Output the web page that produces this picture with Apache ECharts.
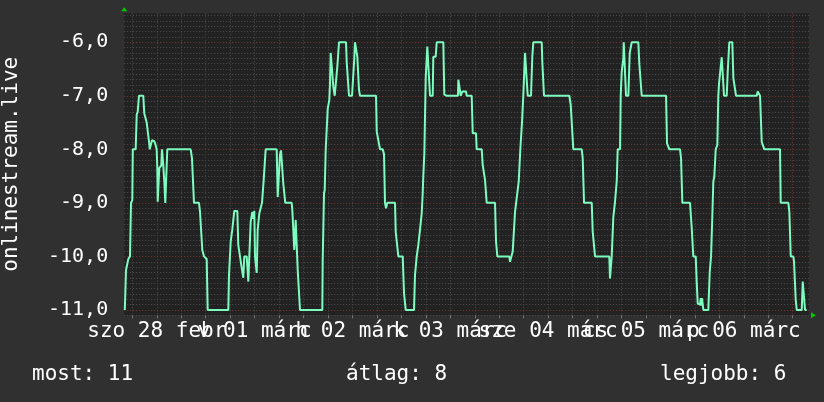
<!DOCTYPE html>
<html><head><meta charset="utf-8">
<script src="https://cdn.jsdelivr.net/npm/echarts@6/dist/echarts.min.js"></script>
<style>html,body{margin:0;padding:0;background:#303030}#c{width:824px;height:402px}</style>
</head><body><div id="c"></div>
<script>
// hours since 28 febr 00:00
const hours = [4.15,4.44,5.00,5.42,5.67,5.99,6.11,6.82,7.07,7.31,7.63,8.68,8.93,9.52,10.08,10.26,10.75,10.82,11.38,11.63,11.97,12.12,12.22,12.46,12.61,13.10,13.27,13.59,13.84,14.08,14.33,14.57,
20.31,20.63,21.12,22.35,22.60,23.01,23.16,23.58,24.24,24.48,29.54,29.71,30.13,30.52,31.01,31.75,31.99,32.41,32.83,33.22,33.46,34.05,34.45,34.79,35.03,35.43,35.67,35.92,36.09,36.51,36.75,37.14,37.81,38.13,38.22,38.71,
41.41,41.66,42.05,42.22,42.47,42.89,43.03,43.45,43.52,45.09,45.24,45.73,45.98,46.07,46.32,46.57,46.88,47.13,52.60,52.70,53.02,53.19,53.44,53.93,54.32,54.49,54.66,54.98,55.30,55.64,56.04,56.28,56.53,56.70,
58.42,58.59,58.83,59.15,59.89,60.21,60.45,60.62,61.04,61.19,61.43,61.60,61.85,65.78,65.95,66.44,66.76,67.42,67.74,67.98,68.23,68.55,70.44,70.61,70.85,71.25,72.33,72.65,73.06,75.10,75.34,75.76,76.15,76.57,76.99,77.23,77.38,77.63,
77.97,78.21,78.36,78.78,79.02,79.69,79.83,80.42,80.67,82.29,82.53,83.12,85.89,85.97,86.38,86.56,86.80,86.95,87.86,88.03,89.25,89.50,90.31,90.48,91.71,91.95,92.27,92.52,92.76,92.93,94.97,95.22,95.54,98.48,98.65,98.82,99.31,99.88,100.44,100.79,
101.18,101.60,101.91,102.33,102.58,102.99,103.80,104.12,104.37,106.43,106.58,106.75,106.99,113.20,113.54,113.79,114.18,116.24,116.49,116.81,118.70,118.94,119.26,119.51,123.01,123.18,123.36,123.60,124.00,124.41,124.83,125.07,125.64,
125.81,126.06,126.45,126.55,126.87,127.11,127.68,128.02,128.26,128.51,130.13,130.37,130.55,130.96,136.93,137.17,137.49,137.73,140.36,140.61,140.93,142.81,143.23,143.62,144.21,144.46,144.70,145.10,145.27,145.44,145.58,145.76,145.93,146.08,
147.30,147.65,147.97,148.28,148.53,148.77,149.12,149.36,149.51,149.75,149.93,150.34,150.59,150.98,151.15,151.82,152.06,152.31,152.45,153.19,153.44,153.85,154.10,159.17,159.42,159.81,159.99,160.23,160.40,160.79,161.04,164.89,165.06,
166.93,167.18,167.52,168.16,168.33,168.57,168.74,168.99,170.22,170.46,170.78,171.03,171.44];
const ranks = [-11.0,-10.26,-10.05,-10.0,-9.0,-8.95,-8.0,-8.0,-7.35,-7.3,-7.0,-7.0,-7.33,-7.5,-7.85,-8.0,-8.0,-7.83,-7.85,-7.9,-8.0,-8.35,-8.98,-8.98,-8.35,-8.3,-8.0,-8.3,-8.6,-9.0,-9.0,-8.0,
-8.0,-8.17,-9.0,-9.0,-9.17,-9.2,-9.88,-10.0,-10.05,-11.0,-11.0,-10.35,-9.72,-9.5,-9.15,-9.15,-9.79,-10.0,-10.22,-10.4,-10.0,-10.0,-10.47,-10.47,-9.35,-9.17,-9.3,-9.15,-10.0,-10.31,-9.5,-9.2,-9.0,-9.0,-8.57,-8.0,
-8.0,-8.89,-8.89,-8.1,-8.02,-8.02,-8.64,-8.64,-9.0,-9.0,-9.13,-9.88,-9.88,-9.32,-9.32,-10.26,-10.26,-11.0,-11.0,-10.07,-8.82,-8.76,-8.0,-7.24,-7.08,-6.77,-6.2,-6.2,-6.83,-7.0,-7.0,-6.46,-6.46,-6.0,
-6.0,-6.38,-6.38,-7.0,-7.0,-7.03,-6.3,-6.0,-6.0,-6.27,-6.27,-6.89,-7.0,-7.0,-7.67,-7.67,-8.0,-8.0,-8.09,-9.0,-9.1,-9.0,-9.0,-9.54,-9.54,-10.0,-10.0,-10.69,-11.0,-11.0,-10.35,-10.0,-9.79,-9.5,-9.19,-8.82,-8.5,-8.08,
-6.67,-6.67,-6.08,-6.08,-7.0,-7.0,-6.27,-6.27,-6.0,-6.0,-6.98,-7.0,-7.0,-6.7,-6.7,-7.0,-7.0,-6.92,-6.92,-7.0,-7.0,-7.7,-7.7,-8.0,-8.0,-8.29,-8.29,-8.57,-8.6,-9.0,-9.0,-9.72,-10.0,-10.0,-10.1,-10.1,-9.91,-9.17,-8.82,-8.6,
-8.0,-7.48,-7.0,-6.2,-6.2,-7.0,-7.0,-6.27,-6.0,-6.0,-6.38,-6.38,-7.0,-7.0,-7.17,-7.17,-8.0,-8.0,-8.17,-9.0,-9.0,-9.54,-9.54,-10.0,-10.0,-10.41,-10.41,-10.0,-9.26,-8.98,-8.6,-8.0,-8.0,
-7.0,-6.55,-6.3,-6.0,-6.0,-7.0,-7.0,-6.2,-6.2,-6.0,-6.0,-6.4,-6.58,-7.0,-7.0,-7.89,-7.89,-8.0,-8.0,-8.17,-9.0,-9.0,-9.47,-10.0,-10.0,-10.5,-10.88,-10.88,-10.9,-10.78,-10.92,-10.78,-10.9,-11.0,
-11.0,-10.29,-10.0,-9.26,-8.6,-8.51,-8.0,-8.0,-7.92,-7.0,-6.77,-6.77,-6.28,-6.28,-7.0,-7.0,-6.55,-6.55,-6.0,-6.0,-6.67,-6.67,-7.0,-7.0,-6.92,-6.92,-7.0,-7.0,-7.86,-7.86,-8.0,-8.0,-9.0,
-9.0,-9.17,-10.0,-10.0,-10.1,-10.1,-10.81,-11.0,-11.0,-10.47,-10.47,-11.0,-11.0];

const dayLabelHours = [12, 36, 60, 84, 108, 132, 156];
const dayLabels = ['szo 28 febr', 'v 01 márc', 'h 02 márc', 'k 03 márc', 'sze 04 márc', 'cs 05 márc', 'p 06 márc'];
const gridHours = [];
for (let h = 6; h <= 168; h += 6) gridHours.push(h);
const yTickValues = [-11, -10, -9, -8, -7, -6];
const yTickLabels = ['-11,0', '-10,0', '-9,0', '-8,0', '-7,0', '-6,0'];
const yAxisTitle = 'onlinestream.live';
const legendTexts = ['most: 11', 'átlag: 8', 'legjobb: 6'];

const MINOR = '#4e4e4e', MAJOR = '#7a3434';
const FONT = '"DejaVu Sans Mono", monospace';
const dayLabelOf = v => { const i = dayLabelHours.indexOf(Math.round(v)); return i >= 0 ? dayLabels[i] : ''; };
// labels split over two coincident axes so that overlapping neighbours are all kept
const evenLabelHours = dayLabelHours.filter((h, i) => i % 2 === 0);
const oddLabelHours = dayLabelHours.filter((h, i) => i % 2 === 1);
const labelStyle = {hideOverlap: false, margin: 6, color: '#ffffff', fontFamily: FONT, fontSize: 21, formatter: dayLabelOf};

const chart = echarts.init(document.getElementById('c'), null, {renderer: 'canvas'});
chart.setOption({
  animation: false,
  backgroundColor: '#303030',
  grid: {left: 124.2, right: 15, top: 13.3, bottom: 86.7, show: true, backgroundColor: '#222222', borderWidth: 0, outerBoundsMode: 'none', containLabel: false},
  xAxis: [{
    type: 'value', min: 4, max: 172, position: 'bottom',
    axisLine: {show: false},
    axisTick: {show: true, customValues: gridHours, length: 3, lineStyle: {color: '#777'}},
    splitLine: {show: true, lineStyle: {color: [MINOR, MINOR, MINOR, MAJOR], type: [1, 2], width: 1}},
    axisLabel: Object.assign({customValues: evenLabelHours}, labelStyle)
  }, {
    type: 'value', min: 4, max: 172, position: 'bottom', offset: 0,
    axisLine: {show: false}, axisTick: {show: false}, splitLine: {show: false},
    axisLabel: Object.assign({customValues: oddLabelHours}, labelStyle)
  }],
  yAxis: {
    type: 'value', min: -11.1, max: -5.46, interval: 0.1,
    name: yAxisTitle, nameLocation: 'middle', nameGap: 102, nameRotate: 90,
    nameTextStyle: {color: '#ffffff', fontFamily: FONT, fontSize: 21},
    axisLine: {show: false}, axisTick: {show: false},
    splitLine: {show: true, showMaxLine: false, lineStyle: {color: [MINOR, MAJOR, MINOR, MINOR, MINOR, MINOR, MINOR, MINOR, MINOR, MINOR], type: [1, 2], width: 1}},
    axisLabel: {
      margin: 16, color: '#ffffff', fontFamily: FONT, fontSize: 20,
      formatter: v => { for (let i = 0; i < yTickValues.length; i++) if (Math.abs(v - yTickValues[i]) < 1e-6) return yTickLabels[i]; return ''; }
    }
  },
  series: [{
    type: 'line', xAxisIndex: 0, data: hours.map((h, i) => [h, ranks[i]]),
    showSymbol: false, symbol: 'none', z: 5,
    lineStyle: {color: '#7dfcc0', width: 2}
  }]
});
// legend texts and axis arrows (arrows placed through the chart's scales)
const tl = chart.convertToPixel({gridIndex: 0}, [4, -5.46]);
const br = chart.convertToPixel({gridIndex: 0}, [172, -11.1]);
chart.setOption({graphic: [
  {id: 'lg0', type: 'text', left: 32, top: 364, style: {text: legendTexts[0], fill: '#ffffff', font: '21px ' + FONT}},
  {id: 'lg1', type: 'text', left: 346, top: 364, style: {text: legendTexts[1], fill: '#ffffff', font: '21px ' + FONT}},
  {id: 'lg2', type: 'text', left: 660, top: 364, style: {text: legendTexts[2], fill: '#ffffff', font: '21px ' + FONT}},
  {id: 'arY', type: 'polygon', z: 10, shape: {points: [[tl[0], tl[1] - 6], [tl[0] - 3, tl[1] - 2], [tl[0] + 3, tl[1] - 2]]}, style: {fill: '#00cc00'}},
  {id: 'arX', type: 'polygon', z: 10, shape: {points: [[br[0] + 7, br[1]], [br[0] + 2, br[1] - 3], [br[0] + 2, br[1] + 3]]}, style: {fill: '#00cc00'}}
]});
</script>
</body></html>
